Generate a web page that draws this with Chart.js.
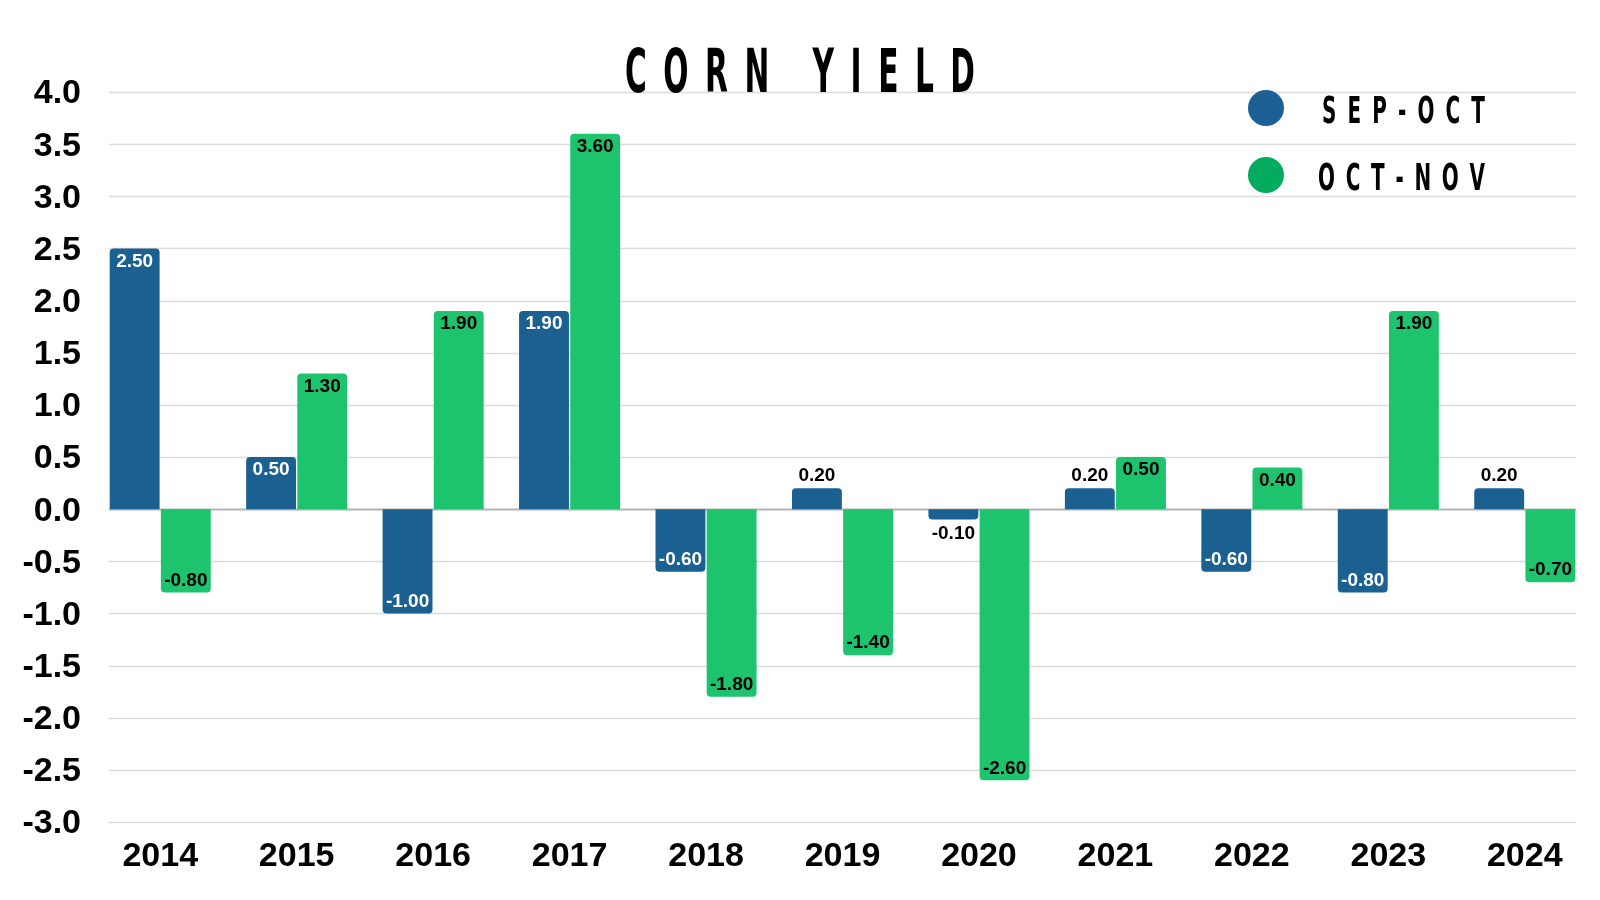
<!DOCTYPE html>
<html>
<head>
<meta charset="utf-8">
<title>Corn Yield</title>
<script src="https://cdn.jsdelivr.net/npm/chart.js@4.4.1/dist/chart.umd.min.js"></script>
<style>
  html, body { margin: 0; padding: 0; background: #fff; }
  #chart { display: block; }
</style>
</head>
<body>
<canvas id="chart" width="1600" height="900"></canvas>
<script>
/* ── DATA ─────────────────────────────────────────────── */
const years = ['2014', '2015', '2016', '2017', '2018', '2019', '2020', '2021', '2022', '2023', '2024'];
const sepOct = [2.50, 0.50, -1.00, 1.90, -0.60, 0.20, -0.10, 0.20, -0.60, -0.80, 0.20];
const octNov = [-0.80, 1.30, 1.90, 3.60, -1.80, -1.40, -2.60, 0.50, 0.40, 1.90, -0.70];
const seriesNames = ['SEP-OCT', 'OCT-NOV'];
const chartTitle = 'CORN YIELD';

const BLUE = '#1a6090';
const GREEN = '#1dc46d';
const LEGEND_COLORS = ['#1c6096', '#02ab5e'];
const SANS = '"Liberation Sans", Arial, Helvetica, sans-serif';
const NARROW = '"Liberation Sans Narrow", "DejaVu Sans Condensed", "Liberation Sans", sans-serif';
const CAT_PCT = 0.75;

/* draws letter-spaced, squeezed caps across a target width */
function spacedText(ctx, text, left, baseline, width, size, squeeze) {
  ctx.save();
  ctx.font = 'bold ' + size + 'px ' + NARROW;
  ctx.fillStyle = '#000';
  ctx.textBaseline = 'alphabetic';
  ctx.textAlign = 'left';
  const chars = text.split('');
  const widths = chars.map(c => ctx.measureText(c).width * squeeze);
  const total = widths.reduce((a, b) => a + b, 0);
  const gap = chars.length > 1 ? (width - total) / (chars.length - 1) : 0;
  let x = left;
  chars.forEach((c, i) => {
    ctx.save();
    ctx.translate(x, baseline);
    ctx.scale(squeeze, 1);
    ctx.fillText(c, 0, 0);
    ctx.restore();
    x += widths[i] + gap;
  });
  ctx.restore();
}

/* ── GRID (spans only the bar region) ─────────────────── */
const gridPlugin = {
  id: 'gridLines',
  beforeDatasetsDraw(chart) {
    const { ctx } = chart;
    const xs = chart.scales.x, ys = chart.scales.y;
    const half = (xs.width / years.length) * CAT_PCT / 2;
    const left = xs.getPixelForValue(0) - half;
    const right = xs.getPixelForValue(years.length - 1) + half;
    ctx.save();
    ys.ticks.forEach(t => {
      const y = Math.round(ys.getPixelForValue(t.value)) + 0.5;
      ctx.beginPath();
      ctx.strokeStyle = t.value === 0 ? '#b4b4b4' : '#dcdcdc';
      ctx.lineWidth = t.value === 0 ? 2 : 1.5;
      ctx.moveTo(left, y);
      ctx.lineTo(right, y);
      ctx.stroke();
    });
    ctx.restore();
  },
};

/* ── BAR VALUE LABELS ─────────────────────────────────── */
const labelPlugin = {
  id: 'barLabels',
  afterDatasetsDraw(chart) {
    const { ctx } = chart;
    ctx.save();
    ctx.font = 'bold 19px ' + SANS;
    ctx.textAlign = 'center';
    ctx.textBaseline = 'middle';
    chart.data.datasets.forEach((ds, di) => {
      const meta = chart.getDatasetMeta(di);
      meta.data.forEach((bar, i) => {
        const v = ds.data[i];
        const inside = Math.abs(v) >= 0.3;
        let y;
        if (v >= 0) y = inside ? bar.y + 13 : bar.y - 13;
        else y = inside ? bar.y - 12 : bar.y + 14;
        ctx.fillStyle = inside && di === 0 ? '#fff' : '#000';
        ctx.fillText(v.toFixed(2), bar.x, y);
      });
    });
    ctx.restore();
  },
};

/* ── TITLE + LEGEND ───────────────────────────────────── */
const headerPlugin = {
  id: 'header',
  afterDraw(chart) {
    const { ctx } = chart;
    spacedText(ctx, chartTitle, 625, 92, 350, 60, 0.55);

    const rows = [
      { cy: 108, left: 1322, base: 123 },
      { cy: 175, left: 1318, base: 190 },
    ];
    rows.forEach((r, i) => {
      ctx.save();
      ctx.beginPath();
      ctx.fillStyle = LEGEND_COLORS[i];
      ctx.arc(1266, r.cy, 18, 0, Math.PI * 2);
      ctx.fill();
      ctx.restore();
      spacedText(ctx, chart.data.datasets[i].label, r.left, r.base, 1485 - r.left, 37, 0.6);
    });
  },
};

new Chart(document.getElementById('chart'), {
  type: 'bar',
  data: {
    labels: years,
    datasets: [
      { label: seriesNames[0], data: sepOct, backgroundColor: BLUE },
      { label: seriesNames[1], data: octNov, backgroundColor: GREEN },
    ],
  },
  options: {
    responsive: false,
    animation: false,
    devicePixelRatio: 1,
    layout: { padding: { top: 92, right: 7, left: 0, bottom: 0 } },
    datasets: {
      bar: {
        categoryPercentage: CAT_PCT,
        barPercentage: 0.975,
        borderRadius: 4,
        borderSkipped: 'start',
      },
    },
    plugins: {
      legend: { display: false },
      title: { display: false },
      tooltip: { enabled: false },
    },
    scales: {
      x: {
        grid: { display: false, drawTicks: false },
        border: { display: false },
        ticks: {
          color: '#000',
          padding: 14,
          font: { size: 34, weight: 'bold', family: SANS },
        },
        afterFit: s => { s.height = 78; },
      },
      y: {
        min: -3,
        max: 4,
        grid: { display: false, drawTicks: false },
        border: { display: false },
        ticks: {
          stepSize: 0.5,
          color: '#000',
          padding: 11,
          labelOffset: 2,
          font: { size: 34, weight: 'bold', family: SANS },
          callback: v => Number(v).toFixed(1),
        },
        afterFit: s => { s.width = 92; },
      },
    },
  },
  plugins: [gridPlugin, labelPlugin, headerPlugin],
});
</script>
</body>
</html>
